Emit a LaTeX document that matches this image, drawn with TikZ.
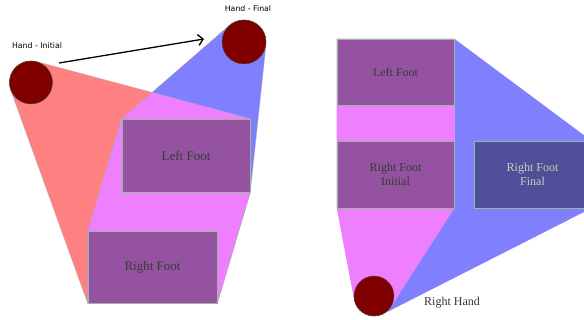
\documentclass[tikz,border=0pt]{standalone}
\usepackage{fontspec}
\setmainfont{Liberation Serif}
\newfontfamily\labelfont{DejaVu Sans}
\usetikzlibrary{calc,arrows.meta}
\definecolor{redc}{RGB}{255,128,128}
\definecolor{bluec}{RGB}{128,128,255}
\definecolor{pinkc}{RGB}{238,128,255}
\definecolor{boxc}{RGB}{148,82,160}
\definecolor{finalc}{RGB}{79,79,153}
\definecolor{handc}{RGB}{128,0,0}
\definecolor{txtc}{RGB}{50,62,50}
\definecolor{ftxtc}{RGB}{195,212,180}
\definecolor{bordc}{RGB}{150,185,150}
\tikzset{
  footbox/.style={rectangle, fill=boxc, draw=bordc, line width=0.6pt, inner sep=0pt,
    text=txtc, align=center, font=\fontsize{13}{14}\selectfont},
  rfootbox/.style={footbox, font=\fontsize{12}{14}\selectfont},
  finalbox/.style={rfootbox, fill=finalc, text=ftxtc},
  hand/.style={circle, fill=handc, draw=black!70, line width=0.4pt, inner sep=0pt, minimum size=#1},
  hlabel/.style={font=\labelfont\fontsize{7.8}{9}\selectfont, text=black},
  region/.style={draw=black!30, line width=0.3pt}
}
\begin{document}
\begin{tikzpicture}[x=1pt,y=-1pt]
\useasboundingbox (0,0) rectangle (584,320);
\clip (0,0) rectangle (584,320);
% ---------- left figure ----------
\node[footbox, minimum width=128pt, minimum height=73pt] (lf) at (186,155.5) {Left Foot};
\node[footbox, minimum width=129pt, minimum height=72pt] (rf) at (152.5,267) {Right Foot};
\node[hand=43pt] (hi) at (31,82.5) {};
\node[hand=44pt] (hf) at (244,42) {};
\def\redpoly{(tangent cs:node=hi,point={(lf.north east)},solution=1) -- (lf.north east) -- (lf.south east) -- (rf.south east) -- (rf.south west) -- (tangent cs:node=hi,point={(rf.south west)},solution=2) -- cycle}
\def\bluepoly{(tangent cs:node=hf,point={(lf.north west)},solution=2) -- (lf.north west) -- (rf.north west) -- (rf.south west) -- (rf.south east) -- (lf.south east) -- (tangent cs:node=hf,point={(lf.south east)},solution=1) -- cycle}
\fill[redc] \redpoly;
\fill[bluec] \bluepoly;
\begin{scope}
  \clip \redpoly;
  \fill[pinkc] \bluepoly;
\end{scope}
\draw[region] \redpoly;
\draw[region] \bluepoly;
\node[footbox, minimum width=128pt, minimum height=73pt] at (lf) {Left Foot};
\node[footbox, minimum width=129pt, minimum height=72pt] at (rf) {Right Foot};
\node[hand=43pt] at (hi) {};
\node[hand=44pt] at (hf) {};
\node[hlabel] (li) at (37,46) {Hand - Initial};
\node[hlabel] (lfin) at (248,9) {Hand - Final};
\coordinate (as) at (59,63);
\coordinate (ae) at (204,39);
\draw[line width=1.3pt, -{Straight Barb[length=5pt,width=11pt,line width=1.3pt]}] (as) -- (ae);
% ---------- right figure ----------
\node[rfootbox, minimum width=117pt, minimum height=66pt] (lf2) at (395.5,72) {Left Foot};
\node[rfootbox, minimum width=117pt, minimum height=67pt] (rfi) at (395.5,174.5) {Right Foot\\Initial};
\node[finalbox, minimum width=117pt, minimum height=67pt] (rff) at (532.5,174.5) {Right Foot\\Final};
\node[hand=40pt] (rh) at (374,296) {};
\fill[bluec] (lf2.north east) -- (rff.north east) -- (rff.south east) -- (tangent cs:node=rh,point={(rff.south east)},solution=2) -- (rh.center) -- (rfi.south east) -- cycle;
\fill[pinkc] (lf2.north west) -- (lf2.north east) -- (rfi.south east) -- (tangent cs:node=rh,point={(rfi.south east)},solution=2) -- (tangent cs:node=rh,point={(rfi.south west)},solution=1) -- (rfi.south west) -- cycle;
\node[rfootbox, minimum width=117pt, minimum height=66pt] at (lf2) {Left Foot};
\node[rfootbox, minimum width=117pt, minimum height=67pt] at (rfi) {Right Foot\\Initial};
\node[finalbox, minimum width=117pt, minimum height=67pt] at (rff) {Right Foot\\Final};
\node[hand=40pt] at (rh) {};
\node[text=black!80, font=\fontsize{12}{14}\selectfont] (rhl) at (452,302.5) {Right Hand};
\end{tikzpicture}
\end{document}
